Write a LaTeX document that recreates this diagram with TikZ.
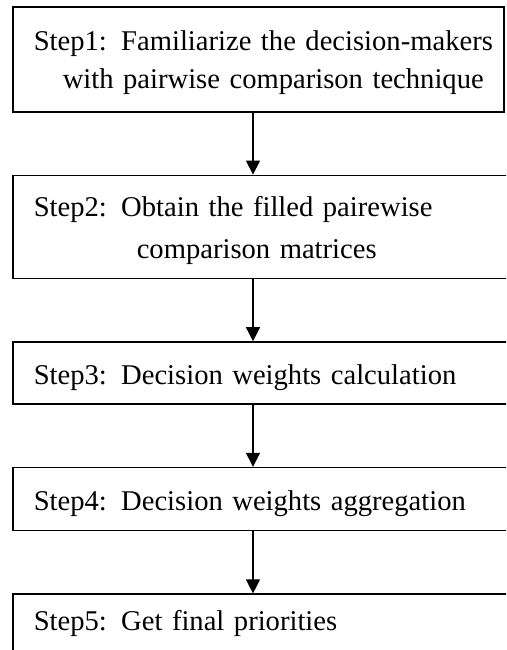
\documentclass[tikz,border=0pt]{standalone}
\usepackage{fontspec}
\setmainfont{Liberation Serif}
\usetikzlibrary{positioning, arrows.meta}

\begin{document}
\begin{tikzpicture}[x=1pt, y=-1pt, >={Triangle[length=14pt, width=14pt]}, node distance=62pt,
    stepbox/.style={draw, rectangle, line width=1.6pt, anchor=north west, align=left,
      inner xsep=21pt, inner ysep=0pt, minimum width=510pt, text width=468pt,
      font=\fontsize{28.6}{38}\selectfont},
    flow/.style={->, line width=1.3pt}]
    \path[use as bounding box] (0,0) rectangle (506,650);
    \clip (0,0) rectangle (506,650);

    \node[stepbox, minimum width=491pt, text width=449pt, minimum height=105pt,
      text height=27pt, text depth=44pt] (step1) at (12,6)
      {\mbox{Step1: Familiarize the decision-makers}\\
       \mbox{\hspace*{29pt}with pairwise comparison technique}};
    \node[stepbox, minimum height=103pt, text height=27pt, text depth=48pt]
      (step2) [below=of step1.south west, anchor=north west]
      {\mbox{Step2: Obtain the filled pairewise}\\[4pt]
       \mbox{\hspace*{103pt}comparison matrices}};
    \node[stepbox, minimum height=62pt, text height=26pt, text depth=4pt]
      (step3) [below=of step2.south west, anchor=north west]
      {\mbox{Step3: Decision weights calculation}};
    \node[stepbox, minimum height=63pt, text height=26pt, text depth=3pt]
      (step4) [below=of step3.south west, anchor=north west]
      {\mbox{Step4: Decision weights aggregation}};
    \node[stepbox, minimum height=66pt, text height=18pt, text depth=12pt]
      (step5) [below=of step4.south west, anchor=north west]
      {\mbox{Step5: Get final priorities}};

    \coordinate (axis) at (253,0);
    \path[flow] (step1.south -| axis) edge (step2.north -| axis)
                (step2.south -| axis) edge (step3.north -| axis)
                (step3.south -| axis) edge (step4.north -| axis)
                (step4.south -| axis) edge (step5.north -| axis);
\end{tikzpicture}
\end{document}
